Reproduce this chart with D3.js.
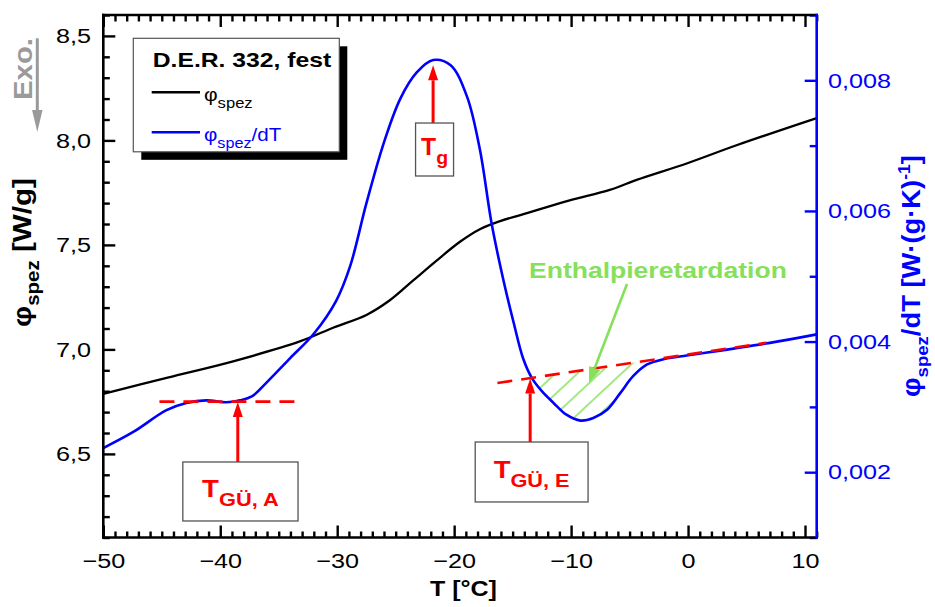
<!DOCTYPE html>
<html><head><meta charset="utf-8">
<script src="https://cdn.jsdelivr.net/npm/d3@7"></script>
<style>body{margin:0;background:#fff} svg{display:block}</style>
</head><body><svg id="c" width="935" height="607" xmlns="http://www.w3.org/2000/svg"></svg>
<script>
// ---------- data ----------
const xTicks = [-50, -40, -30, -20, -10, 0, 10];
const yLeftTicks = [6.5, 7.0, 7.5, 8.0, 8.5];
const yRightTicks = [0.002, 0.004, 0.006, 0.008];

const blackT = [-50, -44.5, -38.9, -33.2, -30.3, -27.5, -25.5, -23.5, -21.5, -19.5, -17.8, -16.0, -14.0, -10.2, -6.7, -4.4, 0, 4.2, 11.0];
const blackV = [6.787, 6.865, 6.943, 7.038, 7.105, 7.165, 7.235, 7.330, 7.425, 7.515, 7.575, 7.615, 7.648, 7.712, 7.763, 7.811, 7.892, 7.978, 8.107];

const blueT = [-50, -47.4, -44.6, -42.9, -41.2, -39.5, -38.3, -37.3, -36.0, -34.0, -32.0, -30.1, -28.9, -27.5, -26.0, -24.6, -23.2, -21.8, -20.3, -18.9, -17.8, -16.8, -15.8, -14.9, -14.1, -13.35, -12.5, -11.5, -10.4, -9.2, -8.1, -6.9, -5.8, -4.7, -3.5, -2.1, -0.7, 7.0, 11.0];
const blueV = [0.00237, 0.00262, 0.00295, 0.00306, 0.00310, 0.00307, 0.00310, 0.00316, 0.00338, 0.00375, 0.00412, 0.00462, 0.00515, 0.00612, 0.00705, 0.00772, 0.00812, 0.00831, 0.00823, 0.00775, 0.00694, 0.00581, 0.00495, 0.00428, 0.00374, 0.00344, 0.00324, 0.00306, 0.00288, 0.00279, 0.00283, 0.00296, 0.00321, 0.00347, 0.00365, 0.00373, 0.00377, 0.00398, 0.00411];

const baseAT = [-45.2, -33.0], baseAV = [0.00308, 0.00308];
const baseET = [-16.3, 6.7],   baseEV = [0.003366, 0.003982];
const hatchRange = [-13.35, -3.5];

const annMain = ["T", "T", "T"];
const annSub = ["g", "GÜ, A", "GÜ, E"];
const annT = [-21.8, -38.5, -13.5];
const annTip = [0.00823, 0.003075, 0.003434];
const annBase = [0.007346, 0.002156, 0.002462];
const annBoxT0 = [-23.3, -43.2, -18.2];
const annBoxT1 = [-20.05, -33.35, -8.55];
const annBoxBot = [0.006535, 0.001253, 0.001544];
const annLen = [27, 77, 76];

const enthText = "Enthalpieretardation";
const enthPos = [-13.6, 0.00497];
const enthArrowFrom = [-5.22, 0.00488], enthArrowTo = [-8.47, 0.003366];

// ---------- setup ----------
const FONT = '"Liberation Sans", Arial, Helvetica, sans-serif';
const BLUE = "#0000ff", RED = "#ff0000", GREEN = "#86e05a", GRAY = "#9a9a9a";
const svg = d3.select("#c");
const x = d3.scaleLinear().domain([-50, 11]).range([103.3, 816.7]);
const yL = d3.scaleLinear().domain([6.1, 8.6]).range([537.5, 15]);
const yR = d3.scaleLinear().domain([0.001, 0.009]).range([537.5, 15]);
const X0 = 103.3, X1 = 816.7, Y0 = 15, Y1 = 537.5;
const SX = 1.2;

function richText(parent, px, py, rot, parts, opts = {}) {
  const t = parent.append("text").attr("font-family", FONT)
    .attr("text-anchor", opts.anchor || "start")
    .attr("fill", opts.fill || "#000").attr("font-weight", opts.weight || "normal");
  parts.forEach(p => {
    const ts = t.append("tspan").text(p.t).attr("font-size", p.size);
    if (p.dy) ts.attr("dy", p.dy);
    if (p.fill) ts.attr("fill", p.fill);
  });
  let sx = opts.sx || 1;
  if (opts.len) { const w = t.node().getBBox().width; sx = opts.len / w; }
  t.attr("transform", `translate(${px},${py}) rotate(${rot || 0}) scale(${sx},1)`);
  return t;
}

const defs = svg.append("defs");
defs.append("clipPath").attr("id", "plot").append("rect")
  .attr("x", X0).attr("y", Y0).attr("width", X1 - X0).attr("height", Y1 - Y0);
const pat = defs.append("pattern").attr("id", "hatch").attr("patternUnits", "userSpaceOnUse")
  .attr("width", 40).attr("height", 15).attr("patternTransform", "rotate(-43)");
pat.append("line").attr("x1", 0).attr("x2", 40).attr("y1", 7).attr("y2", 7)
  .attr("stroke", GREEN).attr("stroke-width", 1.3);

// ---------- axes: labels + inward ticks through d3 axis ----------
const fmtL = d => d3.format(".1f")(d).replace(".", ",");
const fmtR = d => d3.format(".3f")(d).replace(".", ",");
const minorX = d3.range(-50, 11.001, 1).filter(v => !xTicks.includes(v));
const minorYL = d3.range(61, 86.001, 1).map(v => v / 10).filter(v => !yLeftTicks.some(t => Math.abs(t - v) < 1e-9));
const minorYR = [0.001, 0.003, 0.005, 0.007, 0.009];

function axisG(tf, axis, color, xOff) {
  const g = svg.append("g").attr("transform", tf).call(axis);
  g.attr("font-family", FONT).attr("font-size", 21).attr("color", color);
  g.select(".domain").remove();
  g.selectAll(".tick line").attr("stroke", color).attr("stroke-width", 2.4).style("stroke", color).style("stroke-width", "2.4px");
  g.selectAll(".tick text").attr("fill", color).attr("transform", `scale(${SX},1)`);
  if (xOff !== undefined) g.selectAll(".tick text").attr("x", xOff / SX);
  return g;
}
axisG(`translate(0,${Y1})`, d3.axisBottom(x).tickValues(xTicks).tickSizeInner(-12).tickSizeOuter(0).tickPadding(16).tickFormat(d3.format("d")), "#000");
axisG(`translate(0,${Y1})`, d3.axisBottom(x).tickValues(minorX).tickSizeInner(-6).tickSizeOuter(0).tickFormat(() => ""), "#000");
axisG(`translate(0,${Y0})`, d3.axisTop(x).tickValues(xTicks).tickSizeInner(-12).tickSizeOuter(0).tickFormat(() => ""), "#000");
axisG(`translate(0,${Y0})`, d3.axisTop(x).tickValues(minorX).tickSizeInner(-6.5).tickSizeOuter(0).tickFormat(() => ""), "#000");
axisG(`translate(${X0},0)`, d3.axisLeft(yL).tickValues(yLeftTicks).tickSizeInner(-12).tickSizeOuter(0).tickPadding(12).tickFormat(fmtL), "#000", -12.3);
axisG(`translate(${X0},0)`, d3.axisLeft(yL).tickValues(minorYL).tickSizeInner(-6.5).tickSizeOuter(0).tickFormat(() => ""), "#000");
axisG(`translate(${X1},0)`, d3.axisRight(yR).tickValues(yRightTicks).tickSizeInner(-12).tickSizeOuter(0).tickPadding(11).tickFormat(fmtR), BLUE, 11.3);
axisG(`translate(${X1},0)`, d3.axisRight(yR).tickValues(minorYR).tickSizeInner(-7).tickSizeOuter(0).tickFormat(() => ""), BLUE);

// ---------- curves ----------
const plot = svg.append("g").attr("clip-path", "url(#plot)");
const curve = d3.curveCatmullRom.alpha(0.5);
const blackData = blackT.map((t, i) => [t, blackV[i]]);
const blueData = blueT.map((t, i) => [t, blueV[i]]);

plot.append("path").datum(blackData)
  .attr("d", d3.line().x(d => x(d[0])).y(d => yL(d[1])).curve(curve))
  .attr("fill", "none").attr("stroke", "#000").attr("stroke-width", 2.3);

const lineE = t => baseEV[0] + (t - baseET[0]) * (baseEV[1] - baseEV[0]) / (baseET[1] - baseET[0]);
const hatchData = blueData.filter(d => d[0] >= hatchRange[0] - 1e-9 && d[0] <= hatchRange[1] + 1e-9);
plot.append("path").datum(hatchData)
  .attr("d", d3.area().x(d => x(d[0])).y0(d => yR(d[1])).y1(d => yR(lineE(d[0]))).curve(curve))
  .attr("fill", "url(#hatch)").attr("stroke", "none");

plot.append("path").datum(blueData)
  .attr("d", d3.line().x(d => x(d[0])).y(d => yR(d[1])).curve(curve))
  .attr("fill", "none").attr("stroke", BLUE).attr("stroke-width", 2.6);

[[baseAT, baseAV], [baseET, baseEV]].forEach(([ts, vs]) => {
  plot.append("line").attr("x1", x(ts[0])).attr("x2", x(ts[1]))
    .attr("y1", yR(vs[0])).attr("y2", yR(vs[1]))
    .attr("stroke", RED).attr("stroke-width", 2.6).attr("stroke-dasharray", "15,9");
});

// ---------- frame ----------
const frame = svg.append("g").attr("stroke-width", 2.6).attr("stroke-linecap", "square");
frame.append("line").attr("x1", X0).attr("x2", X1).attr("y1", Y1).attr("y2", Y1).attr("stroke", "#000");
frame.append("line").attr("x1", X0).attr("x2", X1).attr("y1", Y0).attr("y2", Y0).attr("stroke", "#000");
frame.append("line").attr("x1", X0).attr("x2", X0).attr("y1", Y0).attr("y2", Y1).attr("stroke", "#000");
frame.append("line").attr("x1", X1).attr("x2", X1).attr("y1", Y0).attr("y2", Y1).attr("stroke", BLUE);

// ---------- annotations ----------
function arrow(g, x1, y1, x2, y2, color, w, hl, hw) {
  const ang = Math.atan2(y2 - y1, x2 - x1);
  const bx = x2 - hl * Math.cos(ang), by = y2 - hl * Math.sin(ang);
  g.append("line").attr("x1", x1).attr("y1", y1).attr("x2", bx).attr("y2", by)
    .attr("stroke", color).attr("stroke-width", w);
  const px = -Math.sin(ang) * hw, py = Math.cos(ang) * hw;
  g.append("polygon").attr("points", `${x2},${y2} ${bx + px},${by + py} ${bx - px},${by - py}`).attr("fill", color);
}
const ann = svg.append("g");
annT.forEach((t, i) => {
  arrow(ann, x(t), yR(annBase[i]), x(t), yR(annTip[i]), RED, 3, 15, 5);
  const bx0 = x(annBoxT0[i]), bx1 = x(annBoxT1[i]), by0 = yR(annBase[i]), by1 = yR(annBoxBot[i]);
  ann.append("rect").attr("x", bx0).attr("y", by0).attr("width", bx1 - bx0).attr("height", by1 - by0)
    .attr("fill", "#fff").attr("stroke", "#555").attr("stroke-width", 1.3);
  richText(ann, (bx0 + bx1) / 2, by0 + 0.6 * (by1 - by0), 0,
    [{ t: annMain[i], size: 24 }, { t: annSub[i], size: 19, dy: 9 }],
    { anchor: "middle", fill: RED, weight: "bold", len: annLen[i] });
});

arrow(ann, x(enthArrowFrom[0]), yR(enthArrowFrom[1]), x(enthArrowTo[0]), yR(enthArrowTo[1]), GREEN, 2.6, 16, 6);
richText(ann, x(enthPos[0]), yR(enthPos[1]), 0, [{ t: enthText, size: 22 }],
  { fill: GREEN, weight: "bold", len: 258 });

// ---------- legend ----------
const lg = svg.append("g");
lg.append("rect").attr("x", 141.3).attr("y", 46.3).attr("width", 206).attr("height", 113.5).attr("fill", "#000");
lg.append("rect").attr("x", 133.3).attr("y", 38.3).attr("width", 206).attr("height", 113.5)
  .attr("fill", "#fff").attr("stroke", "#555").attr("stroke-width", 1.2);
richText(lg, 152.7, 67.3, 0, [{ t: "D.E.R. 332, fest", size: 20 }], { weight: "bold", len: 179 });
lg.append("line").attr("x1", 151.7).attr("x2", 200).attr("y1", 92.3).attr("y2", 92.3).attr("stroke", "#000").attr("stroke-width", 2.5);
richText(lg, 204, 101, 0, [{ t: "φ", size: 19 }, { t: "spez", size: 15, dy: 7 }], { len: 48.7 });
lg.append("line").attr("x1", 151.7).attr("x2", 200).attr("y1", 132.3).attr("y2", 132.3).attr("stroke", BLUE).attr("stroke-width", 2.5);
richText(lg, 204, 141, 0, [{ t: "φ", size: 19 }, { t: "spez", size: 15, dy: 7 }, { t: "/dT", size: 19, dy: -7 }], { fill: BLUE, len: 77.7 });

// ---------- axis titles ----------
richText(svg, 430, 596, 0, [{ t: "T [°C]", size: 22 }], { weight: "bold", len: 67 });
richText(svg, 30.7, 327, -90,
  [{ t: "φ", size: 26 }, { t: "spez", size: 18, dy: 8 }, { t: " [W/g]", size: 26, dy: -8 }],
  { weight: "bold", len: 149 });
richText(svg, 920, 397, -90,
  [{ t: "φ", size: 25 }, { t: "spez", size: 17, dy: 8 }, { t: "/dT [W·(g·K)", size: 25, dy: -8 },
   { t: "-1", size: 16, dy: -10 }, { t: "]", size: 25, dy: 10 }],
  { weight: "bold", fill: BLUE, len: 242 });

// Exo. marker
richText(svg, 31.7, 100, -90, [{ t: "Exo.", size: 25 }], { weight: "bold", fill: GRAY, len: 62 });
arrow(svg, 37.3, 38.3, 37.3, 132, GRAY, 3, 22, 5.2);
</script></body></html>
